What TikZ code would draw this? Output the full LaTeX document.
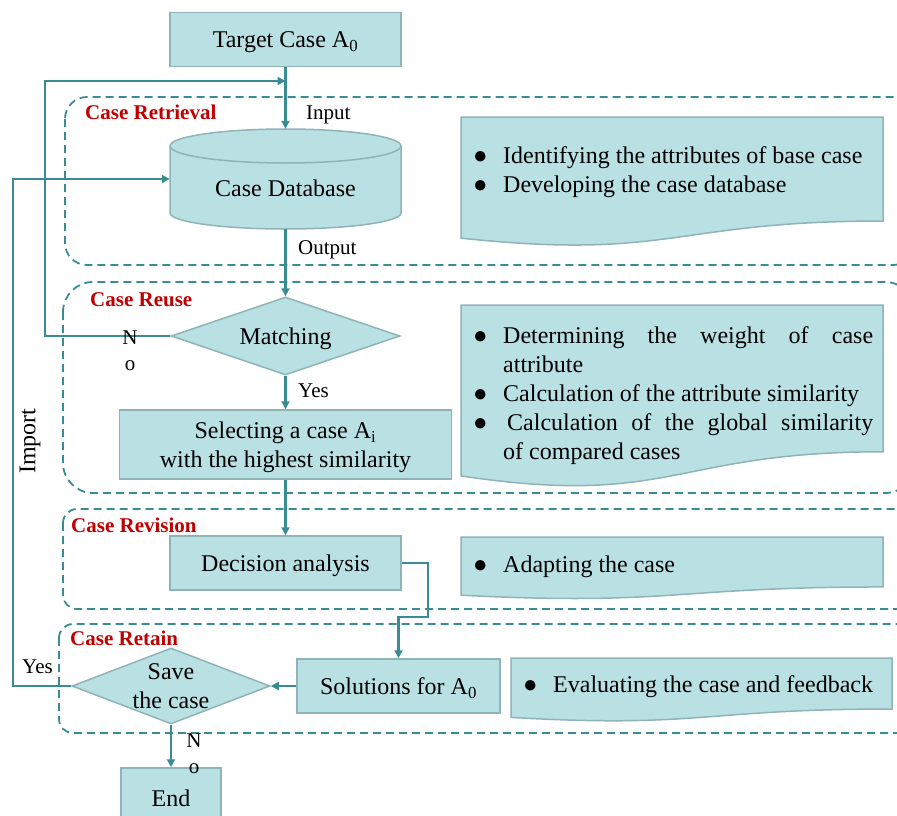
\documentclass[tikz,border=0pt]{standalone}
\usepackage{fontspec}
\setmainfont{Liberation Serif}
\usetikzlibrary{arrows.meta,shapes.geometric}

\definecolor{boxfill}{HTML}{B9E0E3}
\definecolor{boxline}{HTML}{8FB4B8}
\definecolor{flowline}{HTML}{3A8C94}
\definecolor{casered}{HTML}{C00000}
\newcommand{\nodefont}{\fontsize{24}{29}\selectfont}
\newcommand{\tagfont}{\fontsize{21}{26}\selectfont}
% left, top, right, height of a document shape
\newcommand{\docshape}[4]{%
  \filldraw[doc] (#1,-#2) -- (#3,-#2) -- (#3,{-#2-0.802*#4})
    .. controls ({(#1+#3)/2},{-#2-0.802*#4}) and ({(#1+#3)/2},{-#2-1.107*#4}) .. (#1,{-#2-0.934*#4}) -- cycle;}

\begin{document}
\begin{tikzpicture}[x=1pt, y=1pt,
  box/.style={rectangle, draw=boxline, fill=boxfill, line width=1.5pt, inner sep=0pt, text depth=0pt, font=\nodefont, align=center},
  choice/.style={diamond, draw=boxline, fill=boxfill, line width=1.5pt, inner sep=0pt, text depth=0pt, font=\nodefont, align=center},
  doc/.style={draw=boxline, fill=boxfill, line width=1.5pt},
  flow/.style={draw=flowline, line width=2.2pt, -{Triangle[length=8pt,width=8pt]}},
  phase/.style={draw=flowline, line width=1.8pt, dash pattern=on 8pt off 5pt},
  phasename/.style={anchor=base west, inner sep=0pt, text=casered, font=\tagfont\bfseries},
  tag/.style={inner sep=0pt, font=\tagfont, align=center},
  bullets/.style={anchor=base west, inner sep=0pt, font=\nodefont}]
\useasboundingbox (0,0) rectangle (897,-816);
\clip (0,0) rectangle (897,-816);

% phases
\draw[phase, rounded corners=22pt] (65,-97) rectangle (915,-265);
\draw[phase, rounded corners=30pt] (63,-282) rectangle (915,-493);
\draw[phase, rounded corners=14pt] (63,-509) rectangle (915,-609);
\draw[phase, rounded corners=14pt] (59,-624) rectangle (915,-733);
\node[phasename] (retrieval) at (85,-119) {Case Retrieval};
\node[phasename] (reuse) at (90,-306) {Case Reuse};
\node[phasename] (revision) at (71,-532) {Case Revision};
\node[phasename] (retain) at (70,-645) {Case Retain};

% notes
\docshape{461}{117}{883}{129.7}
\docshape{461}{305}{883}{183}
\docshape{461}{537}{883}{62.3}
\docshape{511}{658}{892}{63.6}
\node[bullets] (retrievaltext) at (473,-163) {\begin{tabular}[t]{@{}l@{\hspace{15.5pt}}l@{}}
● & Identifying the attributes of base case\\
● & Developing the case database
\end{tabular}};
\node[bullets] (reusetext) at (473,-343) {\begin{tabular}[t]{@{}l@{\hspace{15.5pt}}p{370pt}@{}}
● & Determining the weight of case\linebreak attribute\\
● & Calculation of the attribute similarity\\
● & \hspace{4pt}Calculation of the global similarity\linebreak of compared cases
\end{tabular}};
\node[bullets] (revisiontext) at (473,-572) {\begin{tabular}[t]{@{}l@{\hspace{15.5pt}}l@{}}
● & Adapting the case
\end{tabular}};
\node[bullets] (retaintext) at (523,-692) {\begin{tabular}[t]{@{}l@{\hspace{15.5pt}}l@{}}
● & Evaluating the case and feedback
\end{tabular}};

% flow
\filldraw[doc] (170,-146) -- (170,-213) arc[start angle=180, end angle=360, x radius=115.5pt, y radius=16pt]
  -- (401,-146) arc[start angle=0, end angle=180, x radius=115.5pt, y radius=17pt] -- cycle;
\draw[doc, fill=none] (170,-146) arc[start angle=180, end angle=360, x radius=115.5pt, y radius=17pt];
\node[box, minimum width=231pt, minimum height=54pt] (target) at (285.5,-39.5) {Target Case A\textsubscript{0}};
\node[minimum width=231pt, minimum height=100pt, inner sep=0pt, text height=36pt, font=\nodefont] (db) at (285.5,-179) {Case Database};
\node[choice, minimum width=229pt, minimum height=78pt, aspect=2.9] (match) at (285.5,-336) {Matching};
\node[box, minimum width=332pt, minimum height=69pt] (select) at (285.5,-444.5) {Selecting a case A\textsubscript{i}\\with the highest similarity};
\node[box, minimum width=231pt, minimum height=54pt] (decision) at (285.5,-563) {Decision analysis};
\node[box, minimum width=203pt, minimum height=54pt] (solution) at (398.5,-686) {Solutions for A\textsubscript{0}};
\node[choice, minimum width=198pt, minimum height=76pt, label={[font=\nodefont, align=center]center:Save\\the case}] (save) at (171,-686) {};
\node[box, minimum width=100pt, minimum height=60pt] (end) at (171,-798) {End};

\coordinate (loop) at (285.5,-81);
\draw[flow] (target.south) -- (db.north);
\draw[flow] (db.south) -- (match.north);
\draw[flow] (match.west) -- ++(-125,0) |- (loop);
\draw[flow] (match.south) -- (select.north);
\draw[flow] (select.south) -- (decision.north);
\draw[flow] (decision.east) -- ++(26,0) -- ++(0,-54) -| (solution.north);
\draw[flow] (solution.west) -- (save.east);
\draw[flow] (save.west) -- ++(-58,0) |- (db.west);
\draw[flow] (save.south) -- (end.north);

\node[tag, anchor=base west] (input) at (306,-119) {Input};
\node[tag, anchor=base west] (output) at (298,-254) {Output};
\node[tag] (matchno) at (130,-351) {N\\o};
\node[tag, anchor=base west] (matchyes) at (298,-397) {Yes};
\node[tag, anchor=base west] (saveyes) at (22,-673) {Yes};
\node[tag] (saveno) at (194,-754) {N\\o};
\node[rotate=90, inner sep=0pt, font=\nodefont] (import) at (30,-441) {Import};
\end{tikzpicture}
\end{document}
